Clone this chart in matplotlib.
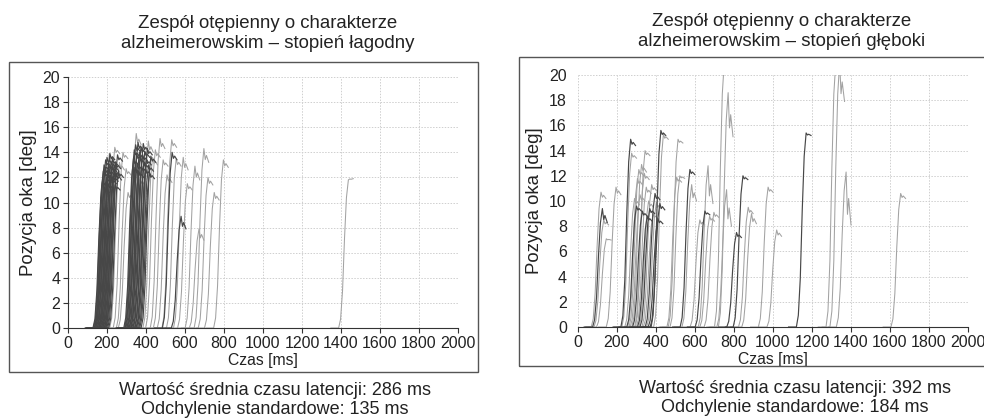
import numpy as np
import matplotlib.pyplot as plt
from matplotlib.patches import Rectangle

plt.rcParams['font.family'] = ['Liberation Sans', 'DejaVu Sans']

# saccade traces: onset [ms], peak amplitude [deg], value at end of trace [deg], tone
left_onset = [136, 162, 190, 214, 232, 248, 258,
              128, 131, 135, 137, 141, 143, 146, 150, 152, 156, 158, 161, 165, 167,
              171, 173, 177, 179, 182, 186, 188, 192, 195, 199, 204, 209,
              300, 318, 362, 384, 398, 422, 438, 458, 482, 505, 541, 562, 601,
              622, 647, 668, 700, 747, 1388,
              286, 290, 293, 297, 302, 305, 309, 313, 316, 321, 324, 328, 333,
              336, 341, 344, 349, 352, 357, 363, 368, 375, 484, 530]
left_amp = [12.6, 13.9, 14.4, 13.2, 14.0, 12.7, 10.8,
            11.8, 12.5, 13.0, 11.2, 12.8, 13.4, 12.0, 13.6, 12.4, 11.5, 13.1, 12.7, 13.9, 12.2,
            13.3, 11.9, 12.9, 13.5, 12.1, 13.0, 12.6, 11.4, 13.2, 12.3, 13.8, 12.5,
            15.5, 12.0, 14.9, 13.6, 14.2, 15.1, 13.4, 12.2, 15.0, 13.5, 13.6, 11.5, 12.9,
            7.9, 14.3, 12.0, 10.8, 13.4, 11.8,
            13.5, 14.2, 12.8, 14.6, 13.9, 13.1, 14.8, 12.5, 14.0, 13.6, 14.4, 12.9, 13.8,
            14.7, 13.2, 14.1, 12.7, 13.5, 14.3, 13.0, 12.4, 13.7, 14.0, 8.9]
left_end = [12.0, 13.2, 13.9, 12.6, 13.5, 12.2, 10.3,
            11.3, 12.0, 12.6, 10.8, 12.3, 12.9, 11.6, 13.1, 11.9, 11.1, 12.6, 12.2, 13.4, 11.8,
            12.8, 11.5, 12.4, 13.0, 11.7, 12.5, 12.1, 11.0, 12.7, 11.8, 13.3, 12.0,
            14.6, 11.4, 14.0, 13.0, 13.6, 14.3, 12.9, 11.6, 14.4, 12.9, 12.6, 11.0, 11.8,
            7.0, 13.2, 11.4, 10.2, 12.8, 11.9,
            13.0, 13.7, 12.3, 14.0, 13.4, 12.6, 14.2, 12.0, 13.5, 13.1, 13.9, 12.4, 13.3,
            14.1, 12.7, 13.6, 12.2, 13.0, 13.8, 12.5, 11.9, 13.2, 13.4, 7.9]
left_dark = [0] * 7 + [1] * 26 + [0] * 19 + [1] * 24

right_onset = [68, 82, 95, 145, 225, 294, 276, 262, 328, 300, 388, 240, 255, 268, 290,
               312, 335, 352, 463, 456, 472, 533, 617, 700, 720, 712, 647, 575, 625, 823,
               840, 925, 969, 1272, 1292, 1605, 1325,
               75, 220, 250, 280, 305, 318, 345, 360, 370, 375, 524, 601, 763, 796, 1120]
right_amp = [10.7, 8.5, 7.0, 11.1, 13.8, 14.0, 12.9, 12.5, 11.3, 11.1, 15.3, 10.2, 11.8, 10.5, 12.2,
             10.0, 9.0, 9.9, 14.9, 11.9, 12.0, 11.3, 12.8, 21.0, 18.6, 10.9, 9.1, 8.5, 8.8, 9.5,
             9.0, 11.1, 7.7, 21.0, 21.0, 10.6, 12.3,
             9.4, 14.9, 9.6, 9.2, 8.8, 9.4, 10.6, 8.6, 9.8, 15.6, 12.5, 9.2, 7.5, 12.0, 15.4]
right_end = [10.2, 8.1, 6.9, 10.5, 13.4, 13.6, 12.3, 12.0, 10.8, 10.6, 14.9, 9.7, 11.3, 10.0, 11.7,
             9.5, 8.6, 9.4, 14.6, 11.5, 11.8, 10.0, 9.8, 21.0, 15.1, 8.0, 8.7, 8.1, 8.4, 9.0,
             8.2, 10.7, 7.2, 21.0, 17.9, 10.2, 8.1,
             8.3, 14.4, 9.2, 8.8, 8.4, 9.0, 10.1, 8.2, 9.3, 15.2, 12.1, 8.9, 7.1, 11.7, 15.2]
right_dark = [0] * 37 + [1] * 15

# normalised saccade shape
profile_dt = [-40, 0, 10, 20, 30, 40, 50, 57, 63, 75]
profile_rise = [0, 0, 0.06, 0.25, 0.6, 0.88, 1, 1, 1, 1]
profile_tail = [0, 0, 0, 0, 0, 0, 0, 0.8, 0.5, 1]

titles = ["Zespół otępienny o charakterze\nalzheimerowskim – stopień łagodny",
          "Zespół otępienny o charakterze\nalzheimerowskim – stopień głęboki"]
footers = ["Wartość średnia czasu latencji: 286 ms\nOdchylenie standardowe: 135 ms",
           "Wartość średnia czasu latencji: 392 ms\nOdchylenie standardowe: 184 ms"]

TXT = '#222222'
DARK = '#474747'
LIGHT = '#a2a2a2'

fig = plt.figure(figsize=(9.84, 4.19), dpi=100)

# frames around panels
fig.add_artist(Rectangle((0.0092, 0.1122), 0.4766, 0.740, transform=fig.transFigure,
                         fill=False, edgecolor='#555555', lw=1.0))
fig.add_artist(Rectangle((0.5274, 0.1265), 0.49, 0.7375, transform=fig.transFigure,
                         fill=False, edgecolor='#555555', lw=1.0))

ax1 = fig.add_axes([0.0691, 0.2172, 0.3963, 0.599])
ax2 = fig.add_axes([0.5874, 0.2196, 0.3963, 0.6014])

dt = np.array(profile_dt)
rise = np.array(profile_rise)
tail = np.array(profile_tail)


def draw(ax, onset, amp, end, dark):
    order = np.argsort(dark, kind='stable')
    for i in order:
        x = onset[i] + dt
        y = amp[i] * rise + (end[i] - amp[i]) * tail
        if dark[i]:
            ax.plot(x, y, color=DARK, lw=0.85)
        else:
            ax.plot(x, y, color=LIGHT, lw=0.75)


draw(ax1, left_onset, left_amp, left_end, left_dark)
draw(ax2, right_onset, right_amp, right_end, right_dark)

for k, ax in enumerate([ax1, ax2]):
    ax.set_xlim(0, 2000)
    ax.set_ylim(0, 20)
    ax.set_xticks(range(0, 2001, 200))
    ax.set_yticks(range(0, 21, 2))
    ax.grid(True, color='#cfcfcf', lw=0.7, linestyle=(0, (1.5, 1.5)))
    ax.set_axisbelow(True)
    for s in ['top', 'right']:
        ax.spines[s].set_visible(False)
    ax.spines['bottom'].set_color('#333333')
    ax.spines['left'].set_color('#333333')
    ax.tick_params(labelsize=11.5, colors='#333333', labelcolor=TXT, length=3.5, width=0.8, pad=2)
    ax.set_xlabel("Czas [ms]", fontsize=11.3, color=TXT, labelpad=2)
    ax.set_ylabel("Pozycja oka [deg]", fontsize=13.4, color=TXT, labelpad=4)

ax2.spines['left'].set_visible(False)
ax2.tick_params(axis='y', length=0, pad=8)

fig.text(0.272, 0.920, titles[0], ha='center', va='center', fontsize=13.4, color=TXT, linespacing=1.2)
fig.text(0.794, 0.925, titles[1], ha='center', va='center', fontsize=13.4, color=TXT, linespacing=1.2)
fig.text(0.2795, 0.046, footers[0], ha='center', va='center', fontsize=13, color=TXT, linespacing=1.15)
fig.text(0.808, 0.049, footers[1], ha='center', va='center', fontsize=13, color=TXT, linespacing=1.15)

fig.savefig("out.png", dpi=100)
